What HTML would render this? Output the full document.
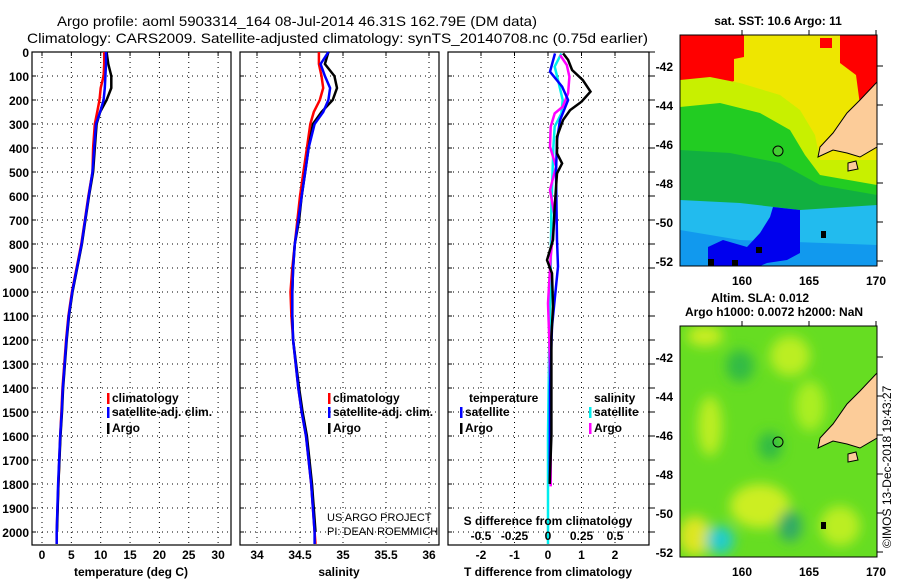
<!DOCTYPE html>
<html><head><meta charset="utf-8"><style>
html,body{margin:0;padding:0;background:#fff;}
svg{display:block;font-family:"Liberation Sans",sans-serif;}
.b{font-weight:bold;font-size:12px;}
</style></head><body>
<svg id="chart" width="900" height="580" viewBox="0 0 900 580" xmlns="http://www.w3.org/2000/svg">
<text x="57" y="26" font-size="14" textLength="480" lengthAdjust="spacingAndGlyphs">Argo profile: aoml 5903314_164 08-Jul-2014 46.31S 162.79E (DM data)</text>
<text x="27" y="43" font-size="14" textLength="621" lengthAdjust="spacingAndGlyphs">Climatology: CARS2009. Satellite-adjusted climatology: synTS_20140708.nc (0.75d earlier)</text>
<g id="panels"></g>
<g id="maps">
  <text class="b" x="778" y="25" text-anchor="middle">sat. SST: 10.6 Argo: 11</text>
  <svg x="680" y="35" width="197" height="231">
    <rect width="197" height="231" fill="#eee600"/>
    <path d="M0 0H64V22L54 24V46L42 50L28 60L14 56H0Z" fill="#ff0000"/>
    <path d="M160 0H197V60L190 80L180 70L176 40L160 28Z" fill="#ff0000"/>
    <rect x="140" y="3" width="12" height="10" fill="#ff0000"/>
    <path d="M0 45 L30 42 L60 48 L100 60 L120 75 L135 100 L140 125 L197 125 V231 H0Z" fill="#c8f000"/>
    <path d="M0 72 L40 68 L80 78 L110 95 L125 120 L140 140 L197 150 V231 H0Z" fill="#22cc22"/>
    <path d="M0 115 L50 118 L100 128 L140 150 L197 160 V231 H0Z" fill="#11b040"/>
    <path d="M0 165 L60 168 L120 175 L197 170 V231 H0Z" fill="#22bbee"/>
    <path d="M0 195 L30 200 L60 205 L197 210 V231 H0Z" fill="#1199ee"/>
    <path d="M28 232 L28 212 L43 205 L67 212 L80 198 L90 182 L93 172 L120 175 L120 218 L107 225 L87 228 L80 231Z" fill="#0000ee"/>
    <path d="M197 47 L180 65 L167 78 L153 98 L140 112 L138 122 L153 115 L167 118 L180 122 L197 112Z" fill="#fccc99" stroke="#000" stroke-width="1"/>
    <path d="M168 128 L176 126 L178 134 L168 136Z" fill="#fccc99" stroke="#000" stroke-width="1"/>
    <circle cx="98" cy="116" r="5" fill="#44cc33" stroke="#000" stroke-width="1"/>
    <rect x="141" y="196" width="5" height="7" fill="#000"/>
    <rect x="28" y="224" width="6" height="7" fill="#000"/>
    <rect x="52" y="225" width="6" height="6" fill="#000"/>
    <rect x="76" y="212" width="6" height="6" fill="#000"/>
  </svg>
  <rect x="680" y="35" width="197" height="231" fill="none" stroke="#000"/>
  <text class="b" x="760" y="302" text-anchor="middle">Altim. SLA: 0.012</text>
  <text class="b" x="774" y="316" text-anchor="middle">Argo h1000: 0.0072 h2000: NaN</text>
  <svg x="680" y="326" width="197" height="231">
    <defs><filter id="bl"><feGaussianBlur stdDeviation="6"/></filter></defs>
    <rect width="197" height="231" fill="#66dd22"/>
    <g filter="url(#bl)">
      <ellipse cx="25" cy="10" rx="18" ry="10" fill="#ccee22"/>
      <ellipse cx="110" cy="30" rx="20" ry="20" fill="#bbee22"/>
      <ellipse cx="30" cy="100" rx="12" ry="30" fill="#bbee22"/>
      <ellipse cx="130" cy="80" rx="15" ry="25" fill="#aaee22"/>
      <ellipse cx="80" cy="180" rx="30" ry="22" fill="#ccee22"/>
      <ellipse cx="15" cy="210" rx="16" ry="20" fill="#dde622"/>
      <ellipse cx="60" cy="40" rx="14" ry="16" fill="#33bb44"/>
      <ellipse cx="90" cy="120" rx="12" ry="14" fill="#33bb44"/>
      <ellipse cx="110" cy="200" rx="12" ry="16" fill="#33aa66"/>
      <ellipse cx="40" cy="214" rx="14" ry="14" fill="#22cccc"/>
      <ellipse cx="160" cy="200" rx="20" ry="20" fill="#bbee22"/>
    </g>
    <path d="M197 47 L180 65 L167 78 L153 98 L140 112 L138 122 L153 115 L167 118 L180 122 L197 112Z" fill="#fccc99" stroke="#000" stroke-width="1"/>
    <path d="M168 128 L176 126 L178 134 L168 136Z" fill="#fccc99" stroke="#000" stroke-width="1"/>
    <circle cx="98" cy="116" r="5" fill="none" stroke="#000" stroke-width="1"/>
    <rect x="141" y="196" width="5" height="7" fill="#000"/>
  </svg>
  <rect x="680" y="326" width="197" height="231" fill="none" stroke="#000"/>
  <text x="0" y="0" font-size="12" transform="translate(891,548) rotate(-90)">©IMOS 13-Dec-2018 19:43:27</text>
</g>
<g id="mapaxes"></g>
</svg>
<script>
const NS='http://www.w3.org/2000/svg';
const svg=document.getElementById('panels');
const mapAxes=document.getElementById('mapaxes');
// ---- data ----
const depths=[0,50,100,150,200,250,300,400,500,600,700,800,900,1000,1100,1200,1400,1500,1600,1800,2000,2050];
const depthTicks=[0,100,200,300,400,500,600,700,800,900,1000,1100,1200,1300,1400,1500,1600,1700,1800,1900,2000];
const tempClim=[10.6,10.6,10.5,10.0,9.8,9.4,9.0,8.7,8.6,7.9,7.3,6.7,5.9,5.1,4.5,4.1,3.5,3.3,3.1,2.8,2.5,2.5];
const tempArgo=[11.0,11.3,11.8,11.8,11.0,9.9,9.3,9.0,8.7,8.0,7.4,6.8,6.0,5.2,4.6,4.2,3.6,3.4,3.15,2.8,2.55];
const tempSat=[10.9,10.9,10.8,10.7,10.5,9.9,9.2,8.9,8.6,7.95,7.35,6.75,5.95,5.15,4.55,4.15,3.55,3.35,3.1,2.75,2.5,2.5];
const salClim=[34.72,34.72,34.75,34.77,34.73,34.66,34.62,34.58,34.54,34.50,34.47,34.44,34.41,34.39,34.40,34.42,34.48,34.52,34.57,34.63,34.67,34.68];
const salArgo=[34.83,34.79,34.90,34.93,34.88,34.75,34.65,34.60,34.56,34.52,34.49,34.44,34.42,34.41,34.41,34.42,34.49,34.53,34.58,34.64,34.68];
const salSat=[34.83,34.74,34.79,34.85,34.83,34.77,34.67,34.60,34.56,34.52,34.48,34.44,34.42,34.41,34.41,34.42,34.48,34.52,34.57,34.63,34.67,34.67];
const dTArgoDepth=[6,33,75,117,165,207,242,283,353,422,464,506,644,783,867,922,1061,1186,1400,1600,1800];
const dTArgo=[0.45,0.6,0.72,1.04,1.27,1.0,0.66,0.45,0.27,0.27,0.42,0.27,0.2,0.15,-0.03,0.12,0.15,0.1,0.1,0.1,0.05];
const dTSatDepth=[6,82,144,200,283,367,506,783,894,1144,1400,1800];
const dTSat=[0.21,0.06,0.42,0.6,0.36,0.27,0.24,0.27,0.3,0.12,0.06,0.05];
const dSArgoDepth=[13,54,103,172,228,256,311,394,478,575,686,853,1047,1200,1500,1810];
const dSArgo=[0.09,0.14,0.16,0.15,0.11,0.05,0.02,0.015,0.06,0.015,0.05,0.02,0,0.01,0.02,0.02];
const dSSatDepth=[6,61,117,200,256,311,394,644,922,1200,1600,2050];
const dSSat=[0.1,0.05,0.075,0.11,0.1,0.05,0.04,0.025,0.02,0.01,0.0,0.0];
const tTicks=[0,5,10,15,20,25,30];
const sTicks=[34,34.5,35,35.5,36];
const tdTicks=[-2,-1,0,1,2];
const sdTicks=[-0.5,-0.25,0,0.25,0.5];
const latTicks=[-42,-44,-46,-48,-50,-52];
const lonTicks=[160,165,170];
// ---- scales ----
const top0=52,pxm=0.24,bottom=545;
const yD=d=>top0+d*pxm;
const xT=v=>42+v*5.87;
const xS=v=>257+(v-34)*86;
const xTD=v=>548+v*33.5;
const xSD=v=>548+v*134;
function el(tag,attrs,parent,text){const e=document.createElementNS(NS,tag);for(const k in attrs)e.setAttribute(k,attrs[k]);if(text!==undefined)e.textContent=text;(parent||svg).appendChild(e);return e;}
function grid(x0,x1,xs){
  depthTicks.forEach(d=>{const l=el('line',{x1:x0,x2:x1,y1:yD(d),y2:yD(d),stroke:'#000','stroke-dasharray':'1,4'});
    
    const t=el('line',{x1:x0,x2:x0+4,y1:yD(d),y2:yD(d),stroke:'#000'});});
  xs.forEach(x=>{const l=el('line',{x1:x,x2:x,y1:top0,y2:bottom,stroke:'#000','stroke-dasharray':'1,4'});
    
    const t=el('line',{x1:x,x2:x,y1:top0,y2:top0+4,stroke:'#000'});});
  const f=el('rect',{x:x0,y:top0,width:x1-x0,height:bottom-top0,fill:'none',stroke:'#000','stroke-width':1.2});
  
}
function line(vals,ds,sx,color,name){
  const pts=vals.map((v,i)=>sx(v).toFixed(1)+','+yD(ds[i]).toFixed(1)).join(' ');
  const p=el('polyline',{points:pts,fill:'none',stroke:color,'stroke-width':2.5});
  
}
function txt(x,y,s,opts,name){const t=el('text',Object.assign({x:x,y:y,'font-size':12,'font-weight':'bold'},opts||{}),svg,s);
  return t;}
depthTicks.forEach(d=>txt(29,yD(d)+5,String(d),{'text-anchor':'end'},'depth-label'));
grid(32,231,tTicks.map(xT));
line(tempClim,depths,xT,'#ff0000','temp-climatology-line');
line(tempArgo,depths,xT,'#000000','temp-argo-line');
line(tempSat,depths,xT,'#0000ff','temp-satellite-line');
tTicks.forEach(v=>txt(xT(v),559,String(v),{'text-anchor':'middle'},'temp-tick-label'));
txt(131,576,'temperature (deg C)',{'text-anchor':'middle'},'temp-axis-title');
grid(240,439,sTicks.map(xS));
line(salClim,depths,xS,'#ff0000','sal-climatology-line');
line(salArgo,depths,xS,'#000000','sal-argo-line');
line(salSat,depths,xS,'#0000ff','sal-satellite-line');
sTicks.forEach(v=>txt(xS(v),559,String(v),{'text-anchor':'middle'},'sal-tick-label'));
txt(339,576,'salinity',{'text-anchor':'middle'},'sal-axis-title');
grid(448,649,tdTicks.map(xTD));
depthTicks.forEach(d=>{const t=el('line',{x1:649,x2:655,y1:yD(d),y2:yD(d),stroke:'#000'});});
line(dSSat,dSSatDepth,xSD,'#00eeee','sal-diff-satellite-line');
line(dSArgo,dSArgoDepth,xSD,'#ff00ff','sal-diff-argo-line');
line(dTSat,dTSatDepth,xTD,'#0000ff','temp-diff-satellite-line');
line(dTArgo,dTArgoDepth,xTD,'#000000','temp-diff-argo-line');
tdTicks.forEach(v=>txt(xTD(v),559,String(v),{'text-anchor':'middle'},'tdiff-tick-label'));
txt(548,576,'T difference from climatology',{'text-anchor':'middle'},'tdiff-axis-title');
txt(548,525,'S difference from climatology',{'text-anchor':'middle'},'sdiff-axis-title');
sdTicks.forEach(v=>txt(xSD(v),540,String(v),{'text-anchor':'middle'},'sdiff-tick-label'));
function legend(x,y,color,label,name){const m=el('rect',{x:x,y:y-9,width:2.5,height:11,fill:color});
  txt(x+5,y,label,{},name);}
legend(107,402,'#ff0000','climatology','legend-climatology');
legend(107,416,'#0000ff','satellite-adj. clim.','legend-satellite');
legend(107,432,'#000','Argo','legend-argo');
legend(328,402,'#ff0000','climatology','legend2-climatology');
legend(328,416,'#0000ff','satellite-adj. clim.','legend2-satellite');
legend(328,432,'#000','Argo','legend2-argo');
txt(469,402,'temperature',{},'legend3-temperature-heading');
txt(594,402,'salinity',{},'legend3-salinity-heading');
legend(460,416,'#0000ff','satellite','legend3-temp-satellite');
legend(460,432,'#000','Argo','legend3-temp-argo');
legend(589,416,'#00eeee','satellite','legend3-sal-satellite');
legend(589,432,'#ff00ff','Argo','legend3-sal-argo');
txt(327,521,'US ARGO PROJECT',{'font-weight':'normal','font-size':11},'credit-project');
txt(327,535,'PI: DEAN ROEMMICH',{'font-weight':'normal','font-size':11},'credit-pi');
function mapAx(yTop){
  const yLat=l=>yTop+31+(-42-l)*19.5;
  latTicks.forEach(l=>{txt(673,yLat(l)+5,String(l),{'text-anchor':'end'},'lat-label');
    const t=el('line',{x1:877,x2:883,y1:yLat(l),y2:yLat(l),stroke:'#000'},mapAxes);});
  lonTicks.forEach(l=>{const x=742+(l-160)*13.4;txt(x,yTop+250,String(l),{'text-anchor':'middle'},'lon-label');
    const t=el('line',{x1:x,x2:x,y1:yTop-5,y2:yTop,stroke:'#000'},mapAxes);});
}
mapAx(35);mapAx(326);
</script>
</body></html>
